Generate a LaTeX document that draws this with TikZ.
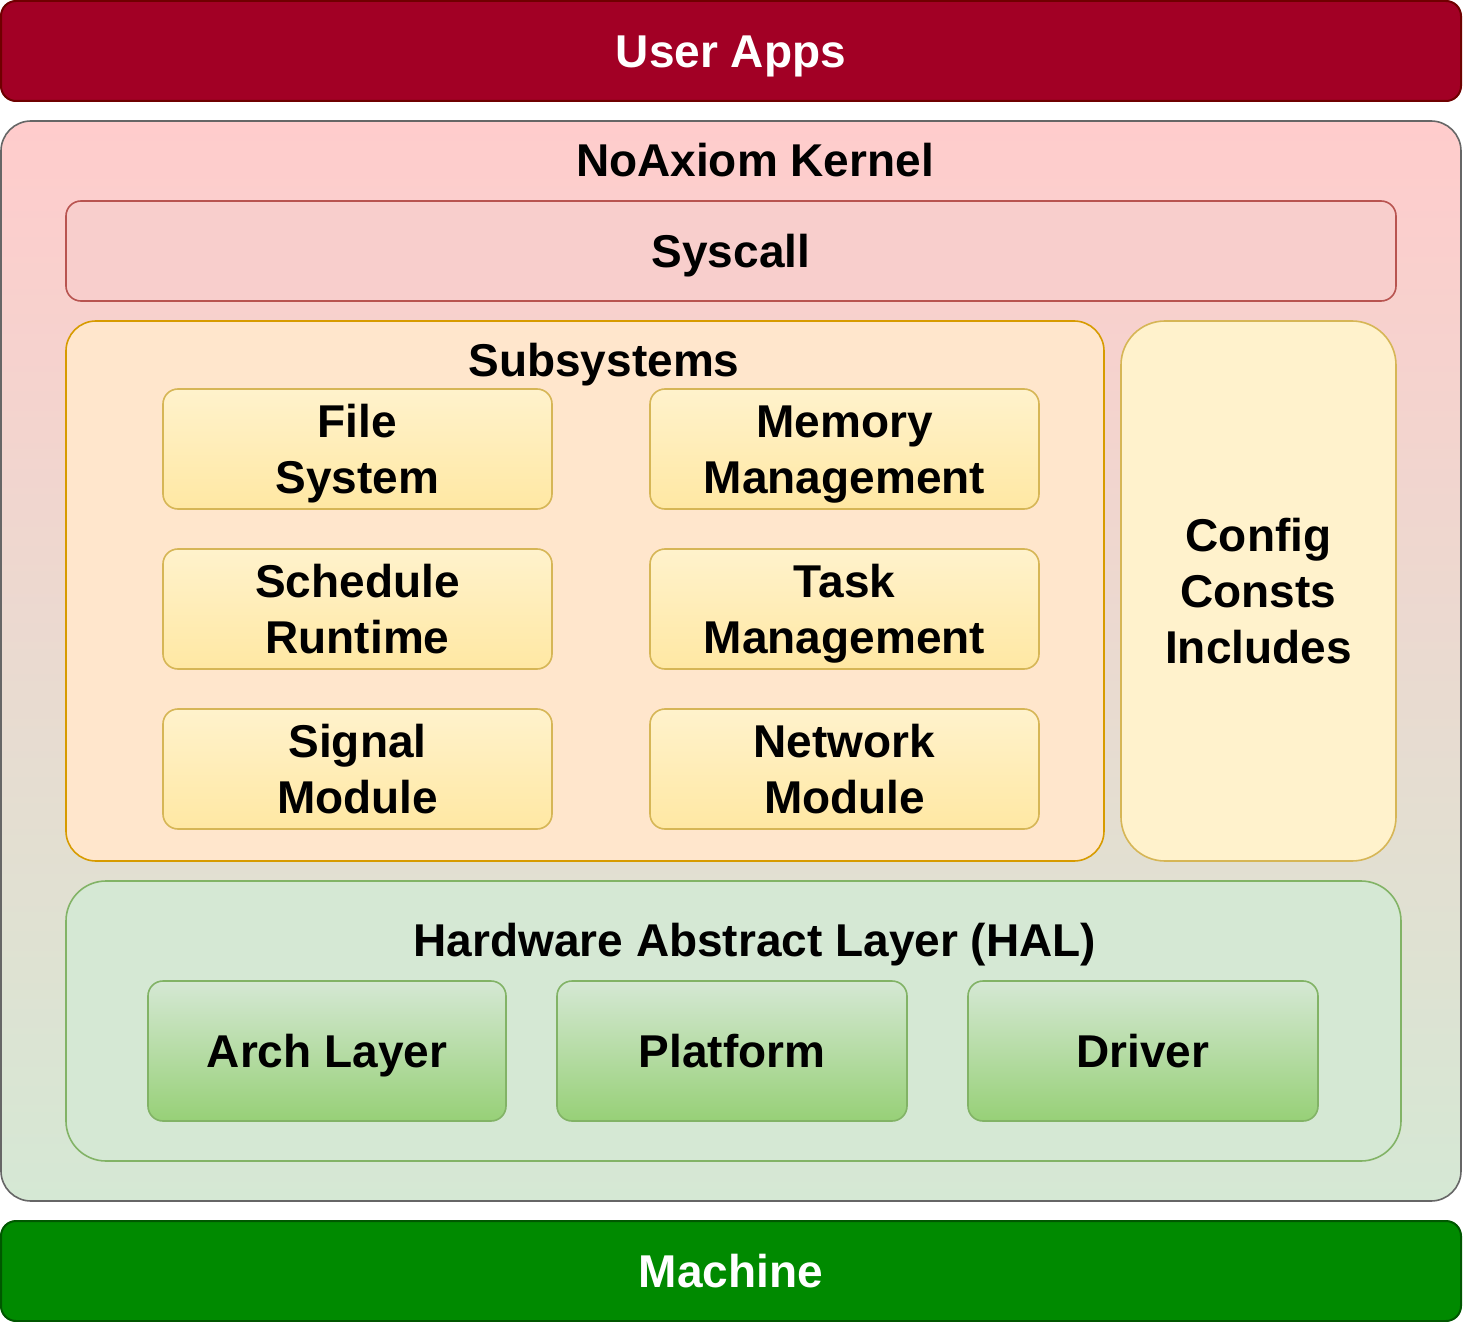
\documentclass[tikz,border=0pt]{standalone}
\usepackage{fontspec}
\setmainfont{Liberation Sans}
\usetikzlibrary{positioning}
\definecolor{appsfill}{HTML}{A20025}
\definecolor{appsline}{HTML}{6F0000}
\definecolor{machfill}{HTML}{008A00}
\definecolor{machline}{HTML}{005700}
\definecolor{kerntop}{HTML}{FFCCCC}
\definecolor{kernbot}{HTML}{D5E8D4}
\definecolor{kernline}{HTML}{666666}
\definecolor{sysfill}{HTML}{F8CECC}
\definecolor{sysline}{HTML}{B85450}
\definecolor{subfill}{HTML}{FFE6CC}
\definecolor{subline}{HTML}{D79B00}
\definecolor{yelfill}{HTML}{FFF2CC}
\definecolor{yelbot}{HTML}{FFE8A3}
\definecolor{yelline}{HTML}{D6B656}
\definecolor{halfill}{HTML}{D5E8D4}
\definecolor{halbot}{HTML}{97D077}
\definecolor{halline}{HTML}{82B366}

% strut that centres capitals in a line
\newcommand{\capstrut}{\rule[-5.7pt]{0pt}{28pt}}

\tikzset{
  every node/.style={font=\fontsize{23}{28}\selectfont\bfseries, align=center, inner sep=0pt},
  outer/.style={draw, line width=1pt, rounded corners=7.5pt, minimum width=730pt, minimum height=50pt, text=white},
  modbox/.style={draw=yelline, line width=0.8pt, rounded corners=7.5pt, top color=yelfill, bottom color=yelbot,
    minimum width=194.5pt, minimum height=60pt},
  halbox/.style={draw=halline, line width=0.8pt, rounded corners=7.5pt, top color=halfill, bottom color=halbot,
    minimum width=175pt, minimum height=70pt}
}

\begin{document}
\begin{tikzpicture}[x=0.5pt, y=-0.5pt]
  \useasboundingbox (0,0) rectangle (1464,1322);

  % top and bottom layers
  \node[outer, fill=appsfill, draw=appsline] (apps) at (731,51) {\capstrut User Apps};
  \node[outer, fill=machfill, draw=machline] (machine) at (731,1271) {\capstrut Machine};

  % kernel
  \node[draw=kernline, line width=0.8pt, rounded corners=15pt, top color=kerntop, bottom color=kernbot,
    minimum width=730pt, minimum height=540pt] (kernel) at (731,661) {};
  \node (kerneltitle) at (755,160) {\capstrut NoAxiom Kernel};

  \node[draw=sysline, fill=sysfill, line width=0.8pt, rounded corners=7.5pt,
    minimum width=665pt, minimum height=50pt] (syscall) at (731,251) {\capstrut Syscall};

  % subsystems
  \node[draw=subline, fill=subfill, line width=0.8pt, rounded corners=15pt,
    minimum width=519pt, minimum height=270pt] (subsys) at (585,591) {};
  \node (subtitle) at (604,360) {\capstrut Subsystems};

  \node[modbox] (fs) at (357.5,449) {\capstrut File\\\capstrut System};
  \node[modbox] (mm) at (844.5,449) {\capstrut Memory\\\capstrut Management};
  \node[modbox] (sched) at (357.5,609) {\capstrut Schedule\\\capstrut Runtime};
  \node[modbox] (task) at (844.5,609) {\capstrut Task\\\capstrut Management};
  \node[modbox] (signal) at (357.5,769) {\capstrut Signal\\\capstrut Module};
  \node[modbox] (net) at (844.5,769) {\capstrut Network\\\capstrut Module};

  \node[draw=yelline, fill=yelfill, line width=0.8pt, rounded corners=22pt,
    minimum width=137.5pt, minimum height=270pt] (config) at (1258.5,591)
    {\capstrut Config\\\capstrut Consts\\\capstrut Includes};

  % hal
  \node[draw=halline, fill=halfill, line width=0.8pt, rounded corners=20pt,
    minimum width=667.5pt, minimum height=140pt] (hal) at (733.5,1021) {};
  \node (haltitle) at (755,940) {\capstrut Hardware Abstract Layer (HAL)};

  \node[halbox, minimum width=179pt] (arch) at (327,1051) {\capstrut Arch Layer};
  \node[halbox] (platform) at (732,1051) {\capstrut Platform};
  \node[halbox] (driver) at (1143,1051) {\capstrut Driver};
\end{tikzpicture}
\end{document}
